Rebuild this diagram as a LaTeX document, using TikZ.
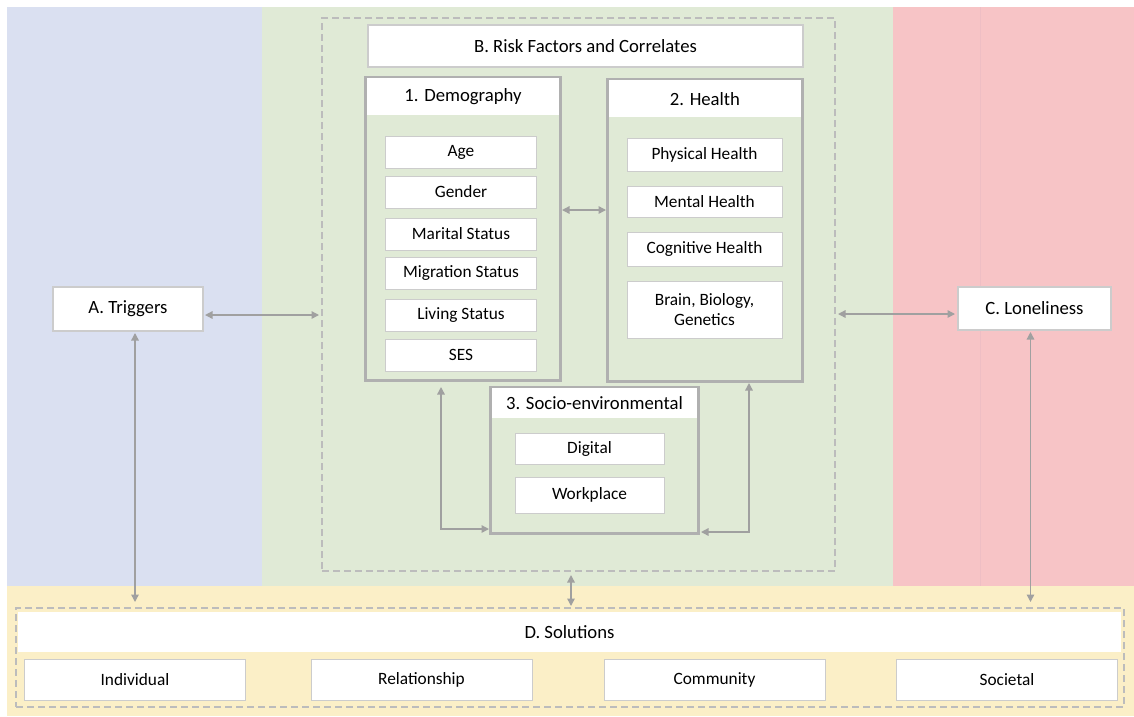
\documentclass[tikz,border=0pt]{standalone}
\usepackage{fontspec}
\setmainfont{Carlito}
\usetikzlibrary{arrows.meta,positioning}
\definecolor{trigblue}{RGB}{218,224,241}
\definecolor{riskgreen}{RGB}{224,234,214}
\definecolor{lonered}{RGB}{247,196,198}
\definecolor{lonerule}{RGB}{238,190,196}
\definecolor{solyellow}{RGB}{251,239,199}
\definecolor{linegray}{RGB}{160,160,160}
\definecolor{boxgray}{RGB}{204,204,204}
\definecolor{panelgray}{RGB}{176,176,176}

\begin{document}
\begin{tikzpicture}[x=1pt, y=-1pt,
  item/.style={rectangle, draw=boxgray, line width=0.8pt, fill=white, minimum height=32pt,
    inner sep=2pt, align=center, font=\fontsize{17.3}{20.5}\selectfont},
  head/.style={rectangle, fill=white, inner sep=2pt, font=\fontsize{18.7}{22}\selectfont},
  panel/.style={rectangle, draw=panelgray, line width=2pt, fill=riskgreen, inner sep=0pt},
  frame/.style={rectangle, draw=panelgray!85, dash pattern=on 7pt off 4pt, line width=2pt, inner sep=0pt},
  arrow/.style={{Triangle[length=7.5pt,width=7.5pt]}-{Triangle[length=7.5pt,width=7.5pt]}, line width=1.4pt, linegray},
]
\useasboundingbox (0,0) rectangle (1134,716);

% Background bands
\fill[trigblue] (7,7) rectangle (262,586);
\fill[riskgreen] (262,7) rectangle (893,586);
\fill[lonered] (893,7) rectangle (1134,586);
\fill[solyellow] (7,586) rectangle (1134,716);
\draw[lonerule, line width=0.6pt] (980,7) -- (980,586);

% A and C
\node[head, draw=boxgray, line width=2pt, minimum width=150pt, minimum height=44pt] (trig) at (128,309) {A. Triggers};
\node[head, draw=boxgray, line width=2pt, minimum width=153pt, minimum height=43pt] (lone) at (1034.5,308.5) {C. Loneliness};

% B. Risk factors
\node[frame, minimum width=513pt, minimum height=553pt] (riskbox) at (578.5,294.5) {};
\node[head, draw=boxgray, line width=2pt, minimum width=435pt, minimum height=42pt] (risk) at (585.5,46) {B. Risk Factors and Correlates};

\node[panel, minimum width=194pt, minimum height=302pt] (demo) at (463,229) {};
\node[head, anchor=north, minimum width=192pt, minimum height=37pt] (demohd) at ([yshift=-1pt]demo.north) {1. Demography};
\draw[panelgray, line width=2pt] (demo.north west) rectangle (demo.south east);

\node[panel, minimum width=194pt, minimum height=301pt] (health) at (705,230.5) {};
\node[head, anchor=north, minimum width=192pt, minimum height=37pt] (healthhd) at ([yshift=-1pt]health.north) {2. Health};
\draw[panelgray, line width=2pt] (health.north west) rectangle (health.south east);

\node[panel, minimum width=207pt, minimum height=145pt] (socio) at (594.5,460.5) {};
\node[head, anchor=north, minimum width=205pt, minimum height=30pt] (sociohd) at ([yshift=-1pt]socio.north) {3. Socio-environmental};
\draw[panelgray, line width=2pt] (socio.north west) rectangle (socio.south east);

\foreach \txt/\y [count=\i] in {Age/152, Gender/192, Marital Status/234, Migration Status/273, Living Status/315, SES/355}
  \node[item, minimum width=151pt] (d\i) at (461,\y) {\txt};

\node[item, minimum width=155pt, minimum height=33pt] (h1) at (704.5,154.5) {Physical Health};
\node[item, minimum width=155pt, minimum height=31pt] (h2) at (704.5,201.5) {Mental Health};
\node[item, minimum width=155pt, minimum height=34pt] (h3) at (704.5,249) {Cognitive Health};
\node[item, minimum width=155pt, minimum height=57pt] (h4) at (704.5,309.5) {Brain, Biology,\\Genetics};

\node[item, minimum width=149pt, minimum height=31pt] (s1) at (589.5,448.5) {Digital};
\node[item, minimum width=149pt, minimum height=36pt] (s2) at (589.5,495) {Workplace};

% D. Solutions
\node[frame, minimum width=1108pt, minimum height=99pt] (sol) at (570,657.5) {};
\node[head, minimum width=1103pt, minimum height=40pt] (solhd) at (569.5,632) {D. Solutions};
\foreach \txt/\x [count=\i] in {Individual/135, Relationship/421.5, Community/714.5, Societal/1007}
  \node[item, minimum width=221pt, minimum height=41pt] (l\i) at (\x,679.5) {\txt};

% Arrows
\draw[arrow, shorten <=1pt, shorten >=2pt] ([yshift=-6pt]trig.east) -- ([yshift=-6pt]trig.east -| riskbox.west);
\draw[arrow, shorten <=2pt, shorten >=2pt] ([yshift=-5.5pt]lone.west) -- ([yshift=-5.5pt]lone.west -| riskbox.east);
\draw[arrow, shorten <=1pt, shorten >=1pt] ([yshift=19pt]demo.east) -- ([yshift=19pt]demo.east -| health.west);
\draw[arrow, shorten <=1pt, shorten >=5pt] ([xshift=7pt]trig.south) -- ([xshift=7pt]trig.south |- sol.north);
\draw[arrow, shorten <=1pt, shorten >=5pt] ([xshift=-4pt]lone.south) -- ([xshift=-4pt]lone.south |- sol.north);
\draw[arrow, shorten <=3pt, shorten >=1pt] ([xshift=-7.5pt]riskbox.south) -- ([xshift=-7.5pt]riskbox.south |- sol.north);
\draw[arrow, shorten >=1pt] ([xshift=-22pt, yshift=-6pt]demo.south) |- ([yshift=5pt]socio.south west);
\draw[arrow, shorten >=2pt] ([xshift=44pt, yshift=-1pt]health.south) |- ([yshift=2pt]socio.south east);

\end{tikzpicture}
\end{document}
